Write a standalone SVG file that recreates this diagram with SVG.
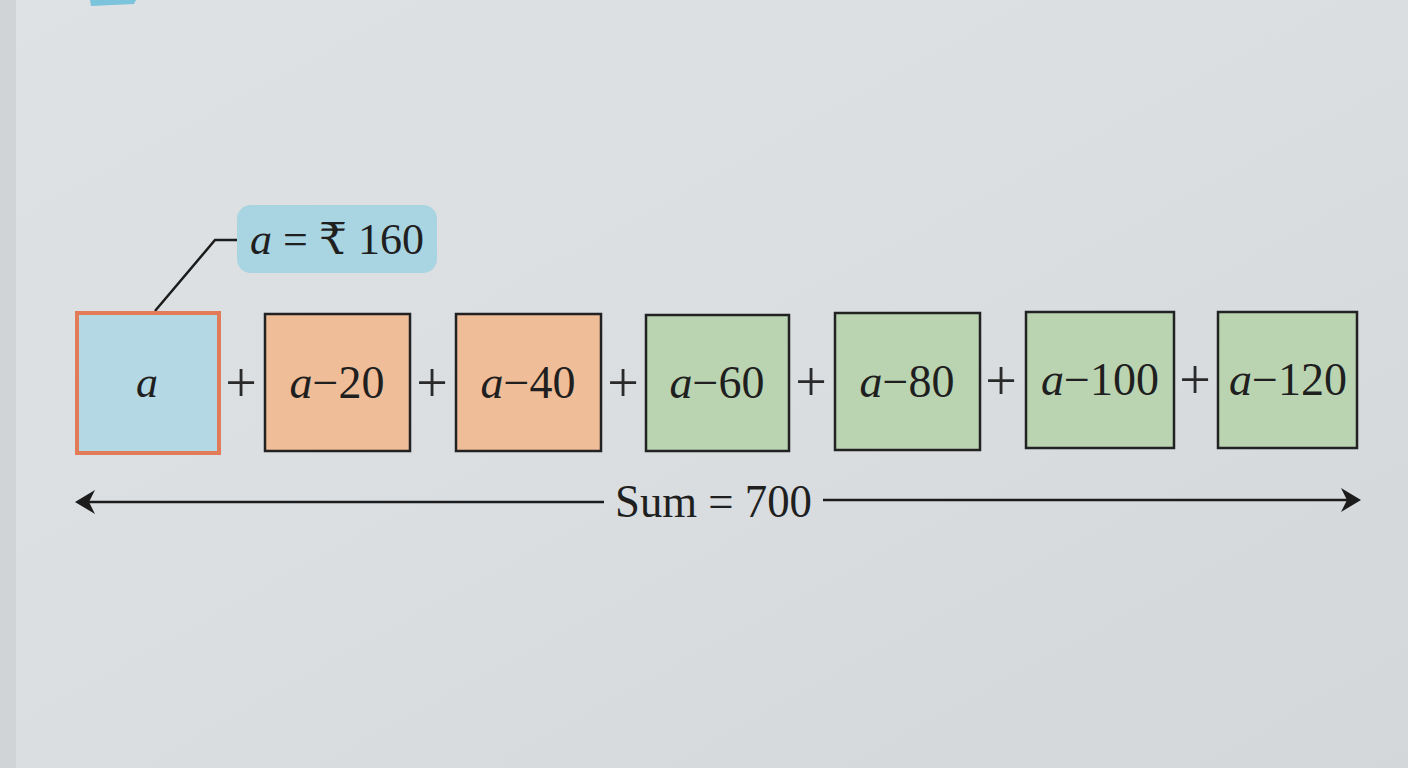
<svg xmlns="http://www.w3.org/2000/svg" width="1408" height="768" viewBox="0 0 1408 768">
<defs>
<style>
.t{font-family:"Liberation Serif","DejaVu Serif",serif;fill:#1f1f1f}
.i{font-style:italic}
.bx{stroke:#222;stroke-width:2.5}
.or{fill:#efbd98}
.gr{fill:#bad4b2}
.pl{font-family:"Liberation Serif",serif;font-size:56px;fill:#2a2a2a;text-anchor:middle}
.ln{stroke:#1c1c1c;stroke-width:2.5;fill:none}
</style>
<linearGradient id="bg" x1="0" y1="0" x2="1" y2="1">
<stop offset="0" stop-color="#dfe2e5"/>
<stop offset="0.5" stop-color="#dadee1"/>
<stop offset="1" stop-color="#d3d7da"/>
</linearGradient>
<marker id="ah" viewBox="0 0 20 24" refX="17" refY="12" markerWidth="20" markerHeight="24" markerUnits="userSpaceOnUse" orient="auto-start-reverse">
<path d="M20,12 L0,0 L6,12 L0,24 Z" fill="#1c1c1c"/>
</marker>
</defs>
<rect width="1408" height="768" fill="url(#bg)"/>
<rect x="0" y="0" width="16" height="768" fill="#d0d4d7"/>
<polygon points="90,0 136,0 134,4 91,6" fill="#7cc3dc"/>

<g id="connectors">
<polyline class="ln" points="155,311 215,240 237,240"/>
<line class="ln" x1="78" y1="502" x2="604" y2="502" marker-start="url(#ah)"/>
<line class="ln" x1="823" y1="500" x2="1358" y2="500" marker-end="url(#ah)"/>
</g>

<g id="label-a160">
<rect x="237" y="205" width="200" height="68" rx="14" fill="#a9d4e2"/>
<text class="t" x="337" y="254" font-size="44" text-anchor="middle"><tspan class="i">a</tspan> = ₹ 160</text>
</g>

<g id="box-a">
<rect x="77" y="313" width="142" height="140" fill="#b4d8e4" stroke="#e27c58" stroke-width="4"/>
<text class="t i" x="147" y="397" font-size="44" text-anchor="middle">a</text>
</g>
<text class="pl" x="241" y="402">+</text>
<g id="box-a20">
<rect class="bx or" x="265" y="314" width="145" height="137"/>
<text class="t" x="337" y="398" font-size="46" text-anchor="middle"><tspan class="i">a</tspan>−20</text>
</g>
<text class="pl" x="432" y="402">+</text>
<g id="box-a40">
<rect class="bx or" x="456" y="314" width="145" height="137"/>
<text class="t" x="528" y="398" font-size="46" text-anchor="middle"><tspan class="i">a</tspan>−40</text>
</g>
<text class="pl" x="623" y="402">+</text>
<g id="box-a60">
<rect class="bx gr" x="646" y="315" width="143" height="136"/>
<text class="t" x="717" y="398" font-size="46" text-anchor="middle"><tspan class="i">a</tspan>−60</text>
</g>
<text class="pl" x="811" y="401">+</text>
<g id="box-a80">
<rect class="bx gr" x="835" y="313" width="145" height="137"/>
<text class="t" x="907" y="397" font-size="46" text-anchor="middle"><tspan class="i">a</tspan>−80</text>
</g>
<text class="pl" x="1001" y="400">+</text>
<g id="box-a100">
<rect class="bx gr" x="1026" y="312" width="148" height="136"/>
<text class="t" x="1100" y="395" font-size="46" text-anchor="middle"><tspan class="i">a</tspan>−100</text>
</g>
<text class="pl" x="1195" y="399">+</text>
<g id="box-a120">
<rect class="bx gr" x="1218" y="312" width="139" height="136"/>
<text class="t" x="1288" y="395" font-size="46" text-anchor="middle"><tspan class="i">a</tspan>−120</text>
</g>

<g id="sum-label">
<text class="t" x="615" y="517" font-size="46" textLength="197" lengthAdjust="spacingAndGlyphs">Sum = 700</text>
</g>
</svg>
